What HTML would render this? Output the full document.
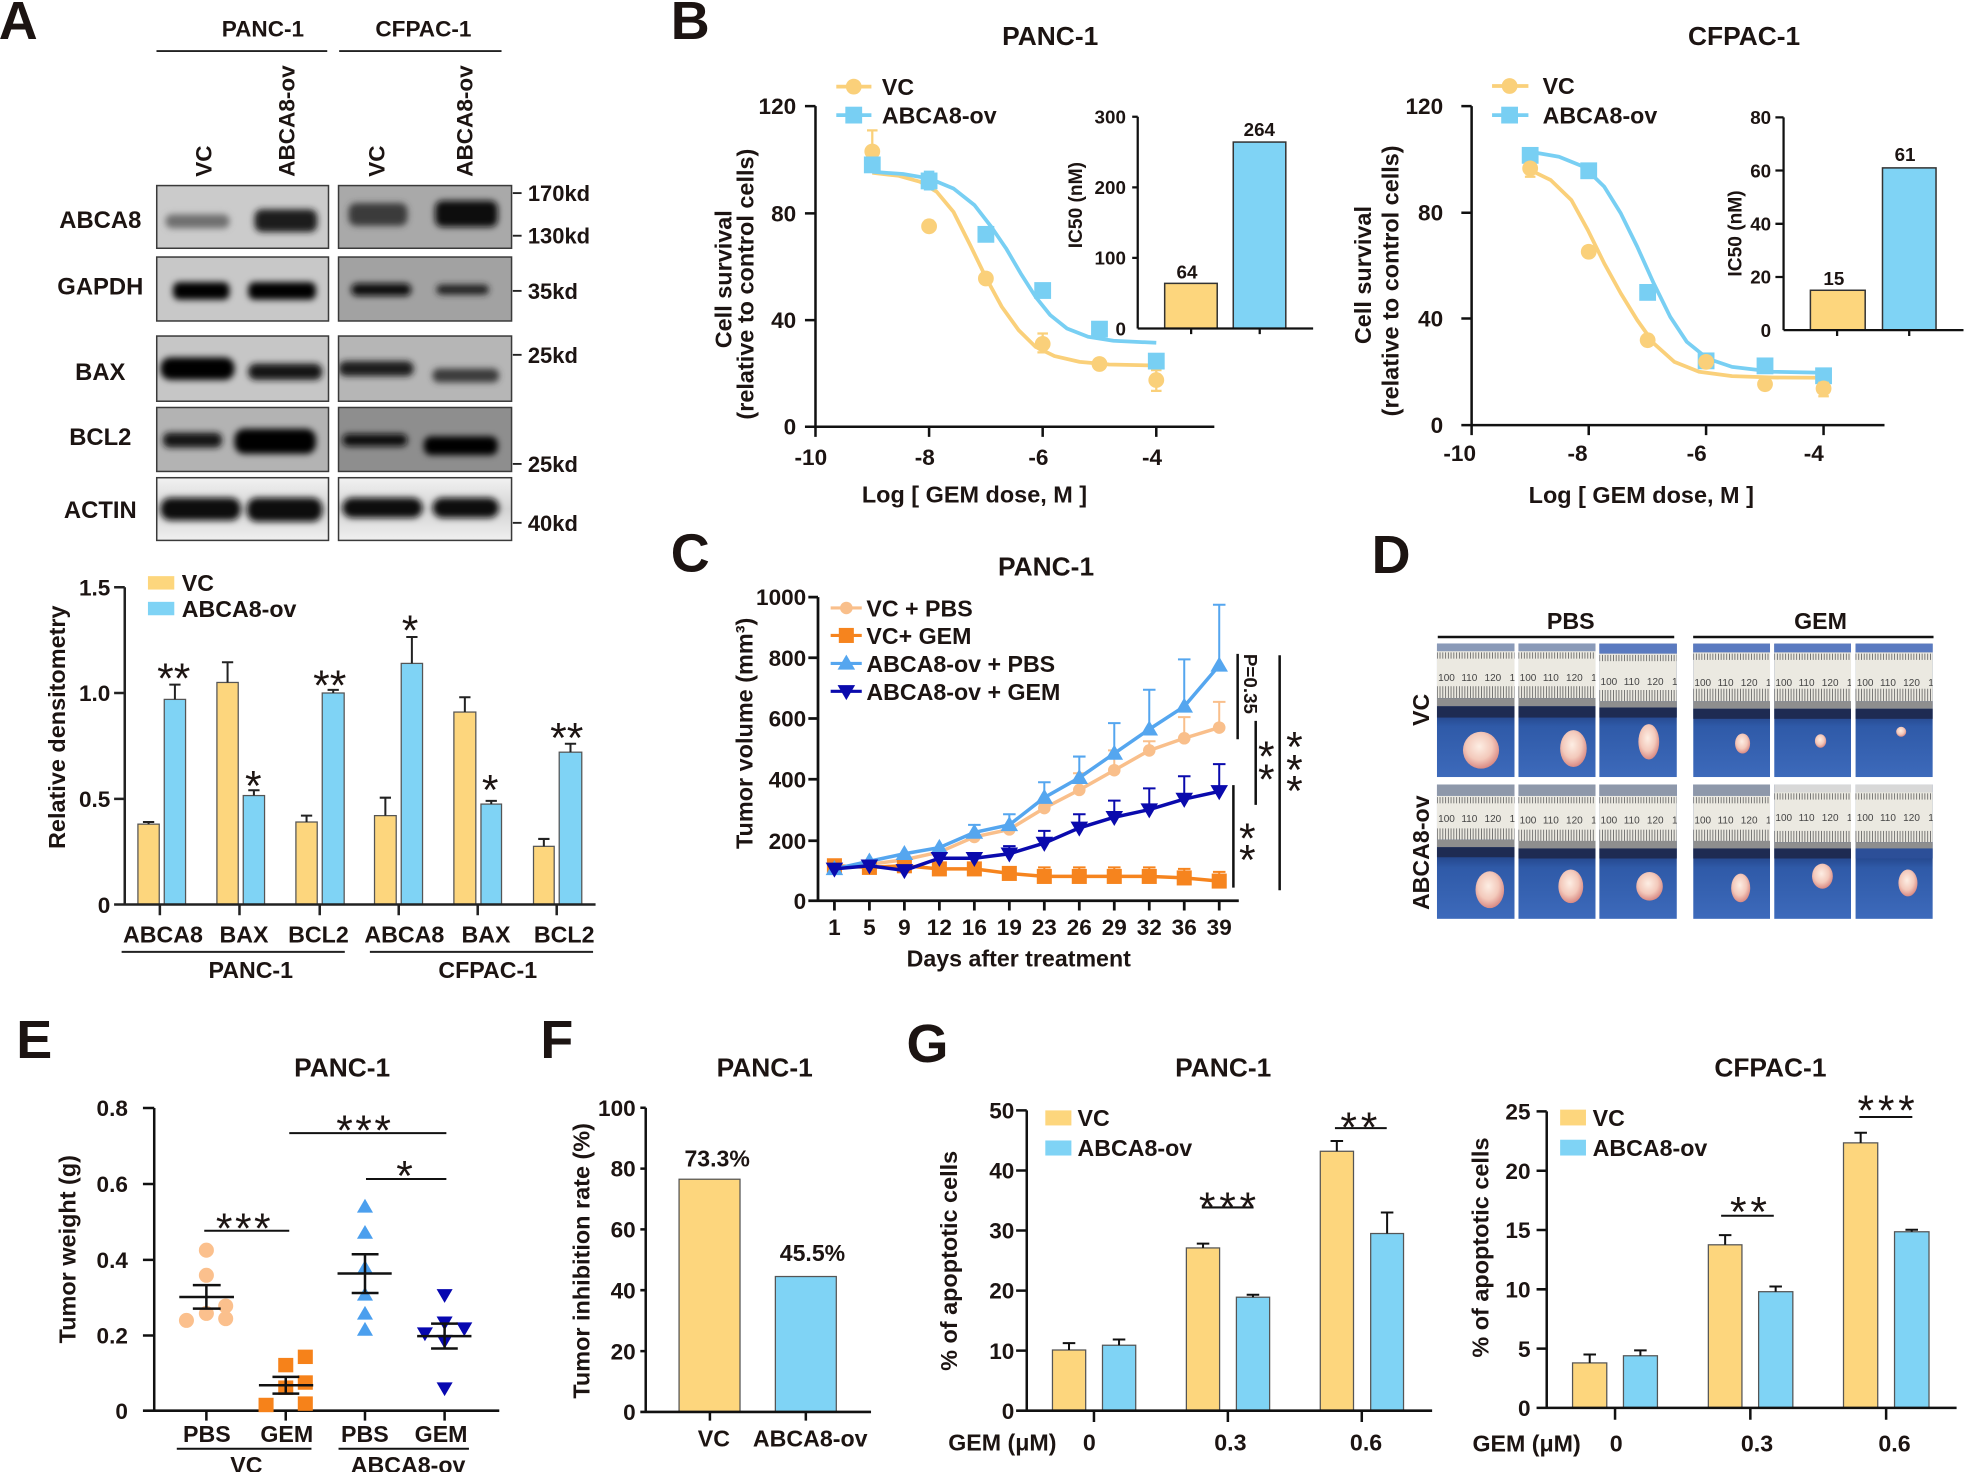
<!DOCTYPE html>
<html><head><meta charset="utf-8">
<style>
html,body{margin:0;padding:0;background:#fff;}
svg{display:block;}
text{font-family:"Liberation Sans",Arial,sans-serif;font-weight:bold;fill:#1c1412;}
.st{font-weight:normal;font-size:34px;}
.r{font-weight:normal;font-size:8px;fill:#444;}
</style></head><body>
<svg width="1966" height="1472" viewBox="0 0 1568 1174" xmlns="http://www.w3.org/2000/svg">
<defs>
<filter id="bl" x="-30%" y="-60%" width="160%" height="220%"><feGaussianBlur stdDeviation="2.6"/></filter>
<linearGradient id="pbg" x1="0" y1="0" x2="0" y2="1"><stop offset="0.5" stop-color="#203e80"/><stop offset="0.62" stop-color="#2f5aa8"/><stop offset="1" stop-color="#3d6abb"/></linearGradient>
<radialGradient id="tg" cx="0.45" cy="0.4" r="0.6"><stop offset="0" stop-color="#fdeee4"/><stop offset="0.6" stop-color="#f3c9bb"/><stop offset="1" stop-color="#d98a84"/></radialGradient>
<pattern id="tk" patternUnits="userSpaceOnUse" width="2.2" height="10"><rect width="0.6" height="10" fill="#555"/></pattern>
<linearGradient id="act" x1="0" y1="0" x2="0" y2="1"><stop offset="0" stop-color="#f2f2f2"/><stop offset="0.5" stop-color="#d4d4d4"/><stop offset="1" stop-color="#f0f0f0"/></linearGradient>
</defs>

<!-- ================= PANEL A ================= -->
<text x="-1" y="31" font-size="43">A</text>
<text x="209.7" y="29" font-size="18" text-anchor="middle">PANC-1</text>
<text x="337.7" y="29" font-size="18" text-anchor="middle">CFPAC-1</text>
<line x1="124.8" y1="40.7" x2="261" y2="40.7" stroke="#222" stroke-width="1.5"/>
<line x1="270.5" y1="40.7" x2="400" y2="40.7" stroke="#222" stroke-width="1.5"/>
<text transform="translate(168.5,141) rotate(-90)" font-size="18">VC</text>
<text transform="translate(235,141) rotate(-90)" font-size="18">ABCA8-ov</text>
<text transform="translate(306.7,141) rotate(-90)" font-size="18">VC</text>
<text transform="translate(376.7,141) rotate(-90)" font-size="18">ABCA8-ov</text>

<text x="80" y="182" font-size="19" text-anchor="middle">ABCA8</text>
<text x="80" y="235" font-size="19" text-anchor="middle">GAPDH</text>
<text x="80" y="303" font-size="19" text-anchor="middle">BAX</text>
<text x="80" y="355" font-size="19" text-anchor="middle">BCL2</text>
<text x="80" y="413" font-size="19" text-anchor="middle">ACTIN</text>

<!-- blots -->
<svg x="125" y="148" width="137" height="50"><rect width="137" height="50" fill="#cbcbcb"/><g filter="url(#bl)"><rect x="7" y="23" width="51" height="11" rx="5" fill="#707070"/><rect x="78" y="19" width="50" height="18" rx="6" fill="#1a1a1a"/></g></svg>
<svg x="270" y="148" width="138" height="50"><rect width="138" height="50" fill="#a9a9a9"/><g filter="url(#bl)"><rect x="8" y="14" width="47" height="18" rx="6" fill="#3a3a3a"/><rect x="77" y="12" width="50" height="21" rx="6" fill="#101010"/></g></svg>
<svg x="125" y="205" width="137" height="51"><rect width="137" height="51" fill="#c8c8c8"/><g filter="url(#bl)"><rect x="13" y="20" width="45" height="14" rx="5" fill="#050505"/><rect x="73" y="20" width="54" height="14" rx="5" fill="#050505"/></g></svg>
<svg x="270" y="205" width="138" height="51"><rect width="138" height="51" fill="#a2a2a2"/><g filter="url(#bl)"><rect x="10" y="21" width="48" height="10" rx="5" fill="#080808"/><rect x="78" y="22" width="42" height="8" rx="4" fill="#202020"/></g></svg>
<svg x="125" y="268" width="137" height="52"><rect width="137" height="52" fill="#c6c6c6"/><g filter="url(#bl)"><rect x="3" y="17" width="59" height="18" rx="8" fill="#050505"/><rect x="73" y="22" width="59" height="13" rx="6" fill="#151515"/></g></svg>
<svg x="270" y="268" width="138" height="52"><rect width="138" height="52" fill="#b6b6b6"/><g filter="url(#bl)"><rect x="0" y="20" width="60" height="12" rx="6" fill="#1a1a1a"/><rect x="75" y="26" width="53" height="11" rx="5" fill="#3a3a3a"/></g></svg>
<svg x="125" y="325" width="137" height="51"><rect width="137" height="51" fill="#b3b3b3"/><g filter="url(#bl)"><rect x="5" y="20" width="47" height="12" rx="5" fill="#151515"/><rect x="62" y="17" width="65" height="20" rx="8" fill="#050505"/></g></svg>
<svg x="270" y="325" width="138" height="51"><rect width="138" height="51" fill="#8e8e8e"/><g filter="url(#bl)"><rect x="3" y="21" width="52" height="10" rx="5" fill="#101010"/><rect x="68" y="23" width="59" height="15" rx="6" fill="#050505"/></g></svg>
<svg x="125" y="381" width="137" height="50"><rect width="137" height="50" fill="url(#act)"/><g filter="url(#bl)"><rect x="3" y="16" width="64" height="18" rx="8" fill="#0a0a0a"/><rect x="72" y="16" width="60" height="19" rx="8" fill="#0a0a0a"/></g></svg>
<svg x="270" y="381" width="138" height="50"><rect width="138" height="50" fill="url(#act)"/><g filter="url(#bl)"><rect x="3" y="16" width="64" height="16" rx="8" fill="#0a0a0a"/><rect x="75" y="16" width="53" height="16" rx="8" fill="#0a0a0a"/></g></svg>
<g fill="none" stroke="#3a3a3a" stroke-width="1.2">
<rect x="125" y="148" width="137" height="50"/><rect x="270" y="148" width="138" height="50"/>
<rect x="125" y="205" width="137" height="51"/><rect x="270" y="205" width="138" height="51"/>
<rect x="125" y="268" width="137" height="52"/><rect x="270" y="268" width="138" height="52"/>
<rect x="125" y="325" width="137" height="51"/><rect x="270" y="325" width="138" height="51"/>
<rect x="125" y="381" width="137" height="50"/><rect x="270" y="381" width="138" height="50"/>
</g>
<g stroke="#222" stroke-width="1.5">
<line x1="409" y1="154" x2="416" y2="154"/><line x1="409" y1="188" x2="416" y2="188"/>
<line x1="409" y1="232" x2="416" y2="232"/><line x1="409" y1="283" x2="416" y2="283"/>
<line x1="409" y1="370" x2="416" y2="370"/><line x1="409" y1="417" x2="416" y2="417"/>
</g>
<g font-size="17.5">
<text x="421" y="160.4">170kd</text><text x="421" y="194.4">130kd</text>
<text x="421" y="238.4">35kd</text><text x="421" y="289.4">25kd</text>
<text x="421" y="376.4">25kd</text><text x="421" y="423.4">40kd</text>
</g>

<!-- A bar chart -->
<rect x="118" y="459.5" width="21" height="10.7" fill="#FDD67D"/>
<text x="145" y="471.3" font-size="18.5">VC</text>
<rect x="118" y="480" width="21" height="10.7" fill="#7FD3F5"/>
<text x="145" y="491.9" font-size="18.5">ABCA8-ov</text>
<g font-size="18" text-anchor="end">
<text x="88" y="475">1.5</text><text x="88" y="559.2">1.0</text><text x="88" y="643.6">0.5</text><text x="88" y="728">0</text>
</g>
<text transform="translate(52,580) rotate(-90)" font-size="18.7" text-anchor="middle">Relative densitometry</text>
<g stroke="#555" stroke-width="1">
<rect x="110" y="657.3" width="17" height="64.1" fill="#FDD67D"/>
<rect x="131" y="557.8" width="17" height="163.6" fill="#7FD3F5"/>
<rect x="173" y="544.3" width="17" height="177.1" fill="#FDD67D"/>
<rect x="194" y="634.5" width="17" height="86.9" fill="#7FD3F5"/>
<rect x="236" y="655.6" width="17" height="65.8" fill="#FDD67D"/>
<rect x="257" y="552.7" width="17.5" height="168.7" fill="#7FD3F5"/>
<rect x="298.7" y="650.5" width="17.3" height="70.9" fill="#FDD67D"/>
<rect x="320" y="529.1" width="17" height="192.3" fill="#7FD3F5"/>
<rect x="362" y="567.9" width="17.5" height="153.5" fill="#FDD67D"/>
<rect x="383.6" y="641.3" width="16.4" height="80.1" fill="#7FD3F5"/>
<rect x="425.5" y="675" width="16.5" height="46.4" fill="#FDD67D"/>
<rect x="446" y="599.9" width="18" height="121.5" fill="#7FD3F5"/>
</g>
<g stroke="#222" stroke-width="1.6" fill="none">
<path d="M118.5 657.3V655.6M114 655.6H123"/>
<path d="M139.5 557.8V546M135 546H144"/>
<path d="M181.5 544.3V528.2M177 528.2H186"/>
<path d="M202.5 634.5V630.3M198 630.3H207"/>
<path d="M244.5 655.6V650.5M240 650.5H249"/>
<path d="M265.75 552.7V550.2M261.25 550.2H270.25"/>
<path d="M307.35 650.5V636.2M302.85 636.2H311.85"/>
<path d="M328.5 529.1V508M324 508H333"/>
<path d="M370.75 567.9V556.1M366.25 556.1H375.25"/>
<path d="M391.8 641.3V638.7M387.3 638.7H396.3"/>
<path d="M433.75 675V669.1M429.25 669.1H438.25"/>
<path d="M455 599.9V593.2M450.5 593.2H459.5"/>
</g>
<g stroke="#222" stroke-width="2" fill="none">
<path d="M99.5 468.4V721.4M91 721.4H475M91 468.4H99.5M91 552.7H99.5M91 637.1H99.5"/>
<path d="M127.5 721.4V730M191 721.4V730M255 721.4V730M318 721.4V730M381 721.4V730M444 721.4V730"/>
<path d="M97 759.2H275M295 759.2H473" stroke-width="1.6"/>
</g>
<text class="st" x="138.6" y="552.7" text-anchor="middle">**</text>
<text class="st" x="202" y="638.4" text-anchor="middle">*</text>
<text class="st" x="263" y="558.4" text-anchor="middle">**</text>
<text class="st" x="327" y="514.4" text-anchor="middle">*</text>
<text class="st" x="391" y="641.7" text-anchor="middle">*</text>
<text class="st" x="452" y="600.3" text-anchor="middle">**</text>
<g font-size="18.5" text-anchor="middle">
<text x="130" y="751.5">ABCA8</text><text x="194.6" y="751.5">BAX</text><text x="254" y="751.5">BCL2</text>
<text x="322.5" y="751.5">ABCA8</text><text x="387.6" y="751.5">BAX</text><text x="450" y="751.5">BCL2</text>
<text x="200" y="780">PANC-1</text><text x="389" y="780">CFPAC-1</text>
</g>

<!-- ================= PANEL B ================= -->
<text x="535" y="31" font-size="43">B</text>
<text x="837.6" y="36" font-size="21" text-anchor="middle">PANC-1</text>
<text x="1391" y="36" font-size="21" text-anchor="middle">CFPAC-1</text>

<!-- B PANC-1 main -->
<g stroke="#111" stroke-width="2" fill="none">
<path d="M650.4 84.6V340.4M642 340.4H968.5M642 84.6H650.4M642 170.2H650.4M642 255.3H650.4"/>
<path d="M650.4 340.4V348.4M741 340.4V348.4M831.6 340.4V348.4M922.2 340.4V348.4"/>
</g>
<g font-size="18" text-anchor="end">
<text x="635" y="91">120</text><text x="635" y="176.5">80</text><text x="635" y="261.6">40</text><text x="635" y="346.7">0</text>
</g>
<g font-size="18" text-anchor="middle">
<text x="646.7" y="371">-10</text><text x="737.6" y="371">-8</text><text x="828.2" y="371">-6</text><text x="918.8" y="371">-4</text>
</g>
<text x="777.2" y="400.6" font-size="18.7" text-anchor="middle">Log [ GEM dose, M ]</text>
<text transform="translate(583.5,222.7) rotate(-90)" font-size="18.7" text-anchor="middle">Cell survival</text>
<text transform="translate(601,226.6) rotate(-90)" font-size="18.7" text-anchor="middle">(relative to control cells)</text>
<line x1="667" y1="69.1" x2="695" y2="69.1" stroke="#FAD07A" stroke-width="3"/>
<circle cx="680.9" cy="69.1" r="6.3" fill="#FAD07A"/>
<text x="703.4" y="75.6" font-size="18.5">VC</text>
<line x1="667" y1="91.8" x2="695" y2="91.8" stroke="#78CFF3" stroke-width="3"/>
<rect x="674.2" y="85.1" width="13.4" height="13.4" fill="#78CFF3"/>
<text x="703.4" y="98.3" font-size="18.5">ABCA8-ov</text>
<path d="M695.7,137.8 L716.8,140.2 L733.6,144.9 L747,152.9 L760.4,168.9 L773.8,195.5 L786.3,221.3 L799,244.7 L812.4,263.3 L825.9,276.6 L841,284 L861.1,288.6 L884.6,290.7 L922.2,291.5" fill="none" stroke="#FAD07A" stroke-width="3" stroke-linejoin="round"/>
<path d="M695.7,137 L720.2,138.8 L741,142.3 L760.4,150.3 L777.2,163.6 L790.6,180.9 L802.4,198.1 L814.1,218.1 L825.9,236.7 L837.6,251.3 L851,262 L867.8,268.6 L888,271.8 L922.2,273.4" fill="none" stroke="#78CFF3" stroke-width="3" stroke-linejoin="round"/>
<g stroke="#FAD07A" stroke-width="1.8" fill="none">
<path d="M695.7 104V130M691.5 104H699.9"/>
<path d="M831.6 266V281M827.4 266H835.8M827.4 281H835.8"/>
<path d="M922.2 295.2V311.7M918 295.2H926.4M918 311.7H926.4"/>
</g>
<g fill="#FAD07A">
<circle cx="695.7" cy="120.8" r="6.3"/><circle cx="741" cy="180.5" r="6.3"/><circle cx="786.3" cy="222.1" r="6.3"/>
<circle cx="831.6" cy="274.3" r="6.3"/><circle cx="876.9" cy="290.3" r="6.3"/><circle cx="922.2" cy="303.1" r="6.3"/>
</g>
<path d="M741 137V151M736.8 137H745.2M736.8 151H745.2" stroke="#78CFF3" stroke-width="1.8" fill="none"/>
<g fill="#78CFF3">
<rect x="689" y="124.8" width="13.4" height="13.4"/><rect x="734.3" y="137.6" width="13.4" height="13.4"/>
<rect x="779.6" y="180.2" width="13.4" height="13.4"/><rect x="824.9" y="225" width="13.4" height="13.4"/>
<rect x="870.2" y="255.8" width="13.4" height="13.4"/><rect x="915.5" y="281.3" width="13.4" height="13.4"/>
</g>
<!-- B PANC-1 inset -->
<rect x="928.9" y="226" width="41.9" height="36" fill="#FDD67D" stroke="#333" stroke-width="1.2"/>
<rect x="983.6" y="113.3" width="41.9" height="148.7" fill="#7FD3F5" stroke="#333" stroke-width="1.2"/>
<g stroke="#111" stroke-width="1.8" fill="none">
<path d="M907.4 93.1V262M903 93.1H907.4M903 149.4H907.4M903 205.7H907.4M907.4 262H1047.3M950 262V266.5M1004.7 262V266.5"/>
</g>
<g font-size="15" text-anchor="end">
<text x="898" y="98.4">300</text><text x="898" y="154.8">200</text><text x="898" y="211">100</text><text x="898" y="267.4">0</text>
</g>
<text x="946.7" y="222.2" font-size="15" text-anchor="middle">64</text>
<text x="1004.4" y="108.6" font-size="15" text-anchor="middle">264</text>
<text transform="translate(862.8,163.6) rotate(-90)" font-size="15.3" text-anchor="middle">IC50 (nM)</text>

<!-- B CFPAC main -->
<g stroke="#111" stroke-width="2" fill="none">
<path d="M1173.7 84.6V339.1M1165.5 339.1H1503M1165.5 84.6H1173.7M1165.5 169.7H1173.7M1165.5 254H1173.7"/>
<path d="M1173.7 339.1V347M1267.1 339.1V347M1360.7 339.1V347M1454.4 339.1V347"/>
</g>
<g font-size="18" text-anchor="end">
<text x="1151" y="91">120</text><text x="1151" y="176">80</text><text x="1151" y="260.5">40</text><text x="1151" y="345.5">0</text>
</g>
<g font-size="18" text-anchor="middle">
<text x="1164.2" y="367.5">-10</text><text x="1258.2" y="367.5">-8</text><text x="1353.2" y="367.5">-6</text><text x="1446.6" y="367.5">-4</text>
</g>
<text x="1309" y="401" font-size="18.7" text-anchor="middle">Log [ GEM dose, M ]</text>
<text transform="translate(1093.5,219.4) rotate(-90)" font-size="18.7" text-anchor="middle">Cell survival</text>
<text transform="translate(1115.2,224) rotate(-90)" font-size="18.7" text-anchor="middle">(relative to control cells)</text>
<line x1="1190" y1="68.6" x2="1219" y2="68.6" stroke="#FAD07A" stroke-width="3"/>
<circle cx="1204" cy="68.6" r="6.3" fill="#FAD07A"/>
<text x="1230.3" y="75.1" font-size="18.5">VC</text>
<line x1="1190" y1="91.8" x2="1219" y2="91.8" stroke="#78CFF3" stroke-width="3"/>
<rect x="1197.3" y="85.1" width="13.4" height="13.4" fill="#78CFF3"/>
<text x="1230.3" y="98.3" font-size="18.5">ABCA8-ov</text>
<path d="M1220.4,121 L1243.4,125 L1263.1,133 L1279.5,148.9 L1292.7,170.2 L1305.8,196.8 L1319,226.1 L1332.1,252.7 L1345.3,272.6 L1361.7,285.9 L1381.4,292.6 L1414.3,296.5 L1454.4,297.3" fill="none" stroke="#78CFF3" stroke-width="3" stroke-linejoin="round"/>
<path d="M1220.4,135.6 L1236.8,143.6 L1253.3,159.6 L1266.4,183.5 L1279.5,210.1 L1292.7,234 L1305.8,255.3 L1319,273.9 L1335.4,288.6 L1355.1,296.5 L1381.4,300 L1414.3,301.1 L1454.4,301.3" fill="none" stroke="#FAD07A" stroke-width="3" stroke-linejoin="round"/>
<g fill="#78CFF3">
<rect x="1213.7" y="117.2" width="13.4" height="13.4"/><rect x="1260.4" y="129.5" width="13.4" height="13.4"/>
<rect x="1307.4" y="226.5" width="13.4" height="13.4"/><rect x="1354" y="281.1" width="13.4" height="13.4"/>
<rect x="1401" y="285.1" width="13.4" height="13.4"/><rect x="1447.7" y="293" width="13.4" height="13.4"/>
</g>
<g stroke="#FAD07A" stroke-width="1.8" fill="none">
<path d="M1220.4 130.3V141M1216.2 130.3H1224.6M1216.2 141H1224.6"/>
<path d="M1454.4 305.3V316M1450.2 305.3H1458.6M1450.2 316H1458.6"/>
</g>
<g fill="#FAD07A">
<circle cx="1220.4" cy="134.3" r="6.3"/><circle cx="1267.1" cy="200.8" r="6.3"/><circle cx="1314.1" cy="271.3" r="6.3"/>
<circle cx="1360.7" cy="288.6" r="6.3"/><circle cx="1407.7" cy="306.4" r="6.3"/><circle cx="1454.4" cy="309.8" r="6.3"/>
</g>
<!-- B CFPAC inset -->
<rect x="1443.9" y="231.5" width="43.7" height="31.8" fill="#FDD67D" stroke="#333" stroke-width="1.2"/>
<rect x="1501.4" y="133.9" width="42.7" height="129.4" fill="#7FD3F5" stroke="#333" stroke-width="1.2"/>
<g stroke="#111" stroke-width="1.8" fill="none">
<path d="M1422.5 93.6V263.3M1416 93.6H1422.5M1416 136H1422.5M1416 178.5H1422.5M1416 220.9H1422.5M1422.5 263.3H1566M1465.2 263.3V268M1522.7 263.3V268"/>
</g>
<g font-size="15" text-anchor="end">
<text x="1412.6" y="99">80</text><text x="1412.6" y="141.4">60</text><text x="1412.6" y="183.9">40</text><text x="1412.6" y="226.3">20</text><text x="1412.6" y="268.7">0</text>
</g>
<text x="1462.6" y="227.4" font-size="15" text-anchor="middle">15</text>
<text x="1519.4" y="128.3" font-size="15" text-anchor="middle">61</text>
<text transform="translate(1389,186.2) rotate(-90)" font-size="15.3" text-anchor="middle">IC50 (nM)</text>

<!-- ================= PANEL C ================= -->
<text x="535" y="456" font-size="43">C</text>
<text x="834.3" y="458.8" font-size="21" text-anchor="middle">PANC-1</text>
<g stroke="#111" stroke-width="2.2" fill="none">
<path d="M652.4 476.2V718.4M644.7 718.4H988"/>
<path d="M644.7 476.2H652.4M644.7 524.6H652.4M644.7 573H652.4M644.7 621.5H652.4M644.7 670.5H652.4"/>
<path d="M665.5 718.4V726.2M693.4 718.4V726.2M721.3 718.4V726.2M749.2 718.4V726.2M777.1 718.4V726.2M805 718.4V726.2M832.9 718.4V726.2M860.8 718.4V726.2M888.7 718.4V726.2M916.6 718.4V726.2M944.5 718.4V726.2M972.4 718.4V726.2"/>
</g>
<g font-size="18" text-anchor="end">
<text x="643" y="482.7">1000</text><text x="643" y="531.1">800</text><text x="643" y="579.5">600</text><text x="643" y="628">400</text><text x="643" y="677">200</text><text x="643" y="724.9">0</text>
</g>
<g font-size="18" text-anchor="middle">
<text x="665.5" y="745.8">1</text><text x="693.4" y="745.8">5</text><text x="721.3" y="745.8">9</text><text x="749.2" y="745.8">12</text><text x="777.1" y="745.8">16</text><text x="805" y="745.8">19</text><text x="832.9" y="745.8">23</text><text x="860.8" y="745.8">26</text><text x="888.7" y="745.8">29</text><text x="916.6" y="745.8">32</text><text x="944.5" y="745.8">36</text><text x="972.4" y="745.8">39</text>
</g>
<text x="812.5" y="770.7" font-size="18.5" text-anchor="middle">Days after treatment</text>
<text transform="translate(600,584.9) rotate(-90)" font-size="18.7" text-anchor="middle">Tumor volume (mm³)</text>
<!-- legend C -->
<line x1="662.5" y1="484.9" x2="687.3" y2="484.9" stroke="#F9BF8B" stroke-width="2.5"/><circle cx="675" cy="484.9" r="5" fill="#F9BF8B"/>
<line x1="662.5" y1="506.8" x2="687.3" y2="506.8" stroke="#F6841E" stroke-width="2.5"/><rect x="669" y="500.8" width="12" height="12" fill="#F6841E"/>
<line x1="662.5" y1="529.1" x2="687.3" y2="529.1" stroke="#55A6EF" stroke-width="2.5"/><path d="M675 522.1L682 534.1L668 534.1Z" fill="#55A6EF"/>
<line x1="662.5" y1="551.4" x2="687.3" y2="551.4" stroke="#0A0AAD" stroke-width="2.5"/><path d="M668 546.4L682 546.4L675 558.4Z" fill="#0A0AAD"/>
<g font-size="18.5">
<text x="691" y="491.6">VC + PBS</text><text x="691" y="513.5">VC+ GEM</text><text x="691" y="535.8">ABCA8-ov + PBS</text><text x="691" y="558.1">ABCA8-ov + GEM</text>
</g>
<!-- VC+PBS -->
<g stroke="#F9BF8B" stroke-width="1.6" fill="none">
<path d="M832.9 644.5V640.9M827.9 640.9H837.9M860.8 630V616.7M855.8 616.7H865.8M888.7 614.3V598.5M883.7 598.5H893.7M916.6 598.5V591.2M911.6 591.2H921.6M944.5 588.8V571.9M939.5 571.9H949.5M972.4 580.3V559.8M967.4 559.8H977.4"/>
</g>
<polyline points="665.5,691.8 693.4,689.3 721.3,685.7 749.2,679.6 777.1,667.5 805,661.5 832.9,644.5 860.8,630 888.7,614.3 916.6,598.5 944.5,588.8 972.4,580.3" fill="none" stroke="#F9BF8B" stroke-width="2.8"/>
<g fill="#F9BF8B">
<circle cx="665.5" cy="691.8" r="5"/><circle cx="693.4" cy="689.3" r="5"/><circle cx="721.3" cy="685.7" r="5"/><circle cx="749.2" cy="679.6" r="5"/><circle cx="777.1" cy="667.5" r="5"/><circle cx="805" cy="661.5" r="5"/><circle cx="832.9" cy="644.5" r="5"/><circle cx="860.8" cy="630" r="5"/><circle cx="888.7" cy="614.3" r="5"/><circle cx="916.6" cy="598.5" r="5"/><circle cx="944.5" cy="588.8" r="5"/><circle cx="972.4" cy="580.3" r="5"/>
</g>
<!-- VC+GEM -->
<g stroke="#F6841E" stroke-width="1.6" fill="none">
<path d="M832.9 699V691.8M827.9 691.8H837.9M860.8 699V691.8M855.8 691.8H865.8M888.7 699V691.8M883.7 691.8H893.7M916.6 699V691.8M911.6 691.8H921.6M944.5 700.2V693M939.5 693H949.5M972.4 702.7V695.4M967.4 695.4H977.4"/>
</g>
<polyline points="665.5,690.5 693.4,691.8 721.3,690.5 749.2,693 777.1,693 805,696.6 832.9,699 860.8,699 888.7,699 916.6,699 944.5,700.2 972.4,702.7" fill="none" stroke="#F6841E" stroke-width="2.8"/>
<g fill="#F6841E">
<rect x="659.5" y="684.5" width="12" height="12"/><rect x="687.4" y="685.8" width="12" height="12"/><rect x="715.3" y="684.5" width="12" height="12"/><rect x="743.2" y="687" width="12" height="12"/><rect x="771.1" y="687" width="12" height="12"/><rect x="799" y="690.6" width="12" height="12"/><rect x="826.9" y="693" width="12" height="12"/><rect x="854.8" y="693" width="12" height="12"/><rect x="882.7" y="693" width="12" height="12"/><rect x="910.6" y="693" width="12" height="12"/><rect x="938.5" y="694.2" width="12" height="12"/><rect x="966.4" y="696.7" width="12" height="12"/>
</g>
<!-- ABCA8+PBS -->
<g stroke="#55A6EF" stroke-width="1.6" fill="none">
<path d="M777.1 663.9V657.9M772.1 657.9H782.1M805 657.9V649.4M800 649.4H810M832.9 636.1V623.9M827.9 623.9H837.9M860.8 620.3V603.4M855.8 603.4H865.8M888.7 600.9V576.7M883.7 576.7H893.7M916.6 581.6V550.1M911.6 550.1H921.6M944.5 563.4V525.9M939.5 525.9H949.5M972.4 530.7V482.3M967.4 482.3H977.4"/>
</g>
<polyline points="665.5,693 693.4,686.9 721.3,680.9 749.2,676 777.1,663.9 805,657.9 832.9,636.1 860.8,620.3 888.7,600.9 916.6,581.6 944.5,563.4 972.4,530.7" fill="none" stroke="#55A6EF" stroke-width="2.8"/>
<g fill="#55A6EF">
<path d="M665.5 686L672.5 698L658.5 698Z"/><path d="M693.4 679.9L700.4 691.9L686.4 691.9Z"/><path d="M721.3 673.9L728.3 685.9L714.3 685.9Z"/><path d="M749.2 669L756.2 681L742.2 681Z"/><path d="M777.1 656.9L784.1 668.9L770.1 668.9Z"/><path d="M805 650.9L812 662.9L798 662.9Z"/><path d="M832.9 629.1L839.9 641.1L825.9 641.1Z"/><path d="M860.8 613.3L867.8 625.3L853.8 625.3Z"/><path d="M888.7 593.9L895.7 605.9L881.7 605.9Z"/><path d="M916.6 574.6L923.6 586.6L909.6 586.6Z"/><path d="M944.5 556.4L951.5 568.4L937.5 568.4Z"/><path d="M972.4 523.7L979.4 535.7L965.4 535.7Z"/>
</g>
<!-- ABCA8+GEM -->
<g stroke="#0A0AAD" stroke-width="1.6" fill="none">
<path d="M805 680.9V674.8M800 674.8H810M832.9 672.4V662.7M827.9 662.7H837.9M860.8 660.3V649.4M855.8 649.4H865.8M888.7 651.8V638.5M883.7 638.5H893.7M916.6 645.7V628.8M911.6 628.8H921.6M944.5 637.3V619.1M939.5 619.1H949.5M972.4 631.2V609.4M967.4 609.4H977.4"/>
</g>
<polyline points="665.5,693 693.4,690.5 721.3,694.2 749.2,684.5 777.1,684.5 805,680.9 832.9,672.4 860.8,660.3 888.7,651.8 916.6,645.7 944.5,637.3 972.4,631.2" fill="none" stroke="#0A0AAD" stroke-width="2.8"/>
<g fill="#0A0AAD">
<path d="M658.5 688L672.5 688L665.5 700Z"/><path d="M686.4 685.5L700.4 685.5L693.4 697.5Z"/><path d="M714.3 689.2L728.3 689.2L721.3 701.2Z"/><path d="M742.2 679.5L756.2 679.5L749.2 691.5Z"/><path d="M770.1 679.5L784.1 679.5L777.1 691.5Z"/><path d="M798 675.9L812 675.9L805 687.9Z"/><path d="M825.9 667.4L839.9 667.4L832.9 679.4Z"/><path d="M853.8 655.3L867.8 655.3L860.8 667.3Z"/><path d="M881.7 646.8L895.7 646.8L888.7 658.8Z"/><path d="M909.6 640.7L923.6 640.7L916.6 652.7Z"/><path d="M937.5 632.3L951.5 632.3L944.5 644.3Z"/><path d="M965.4 626.2L979.4 626.2L972.4 638.2Z"/>
</g>
<!-- C significance -->
<g stroke="#111" stroke-width="2">
<line x1="987.1" y1="521.5" x2="987.1" y2="589.6"/>
<line x1="1001.5" y1="574.9" x2="1001.5" y2="641.9"/>
<line x1="1020.6" y1="522.6" x2="1020.6" y2="710"/>
<line x1="983.7" y1="626.2" x2="983.7" y2="707.9"/>
</g>
<text transform="translate(992,521.5) rotate(90)" font-size="15">P=0.35</text>
<g class="st" text-anchor="middle">
<text class="st" x="1010" y="615">*</text><text class="st" x="1010" y="633.3">*</text>
<text class="st" x="1032.4" y="607.2">*</text><text class="st" x="1032.4" y="625.5">*</text><text class="st" x="1032.4" y="642.5">*</text>
<text class="st" x="994.8" y="680.5">*</text><text class="st" x="994.8" y="697.5">*</text>
</g>

<!-- ================= PANEL D ================= -->
<text x="1094" y="457" font-size="43">D</text>
<text x="1252.8" y="501.8" font-size="18.5" text-anchor="middle">PBS</text>
<text x="1452" y="501.8" font-size="18.5" text-anchor="middle">GEM</text>
<line x1="1146.7" y1="508" x2="1335.3" y2="508" stroke="#111" stroke-width="2"/>
<line x1="1350.4" y1="508" x2="1542.1" y2="508" stroke="#111" stroke-width="2"/>
<text transform="translate(1139.7,566.1) rotate(-90)" font-size="18.5" text-anchor="middle">VC</text>
<text transform="translate(1139.7,680.1) rotate(-90)" font-size="18.5" text-anchor="middle">ABCA8-ov</text>

<!-- row 1 photos -->
<svg x="1146" y="513.3" width="61.9" height="106.5"><rect width="100%" height="100%" fill="url(#pbg)"/><rect width="100%" height="6" fill="#8a9ab8"/><rect y="6" width="100%" height="37.5" fill="#ebe9e1"/><rect y="7" width="100%" height="5" fill="url(#tk)"/><rect y="34" width="100%" height="9.5" fill="url(#tk)"/><text class="r" x="1" y="30">100</text><text class="r" x="19.5" y="30">110</text><text class="r" x="38" y="30">120</text><text class="r" x="58" y="30">1</text><rect y="43.5" width="100%" height="6.5" fill="#8e8e8e"/><rect y="50" width="100%" height="9" fill="#1e2b52"/><ellipse cx="35.2" cy="85" rx="14.4" ry="14.7" fill="url(#tg)"/></svg>
<svg x="1211" y="513.3" width="61.5" height="106.5"><rect width="100%" height="100%" fill="url(#pbg)"/><rect width="100%" height="6" fill="#8a9ab8"/><rect y="6" width="100%" height="37.5" fill="#ebe9e1"/><rect y="7" width="100%" height="5" fill="url(#tk)"/><rect y="34" width="100%" height="9.5" fill="url(#tk)"/><text class="r" x="1" y="30">100</text><text class="r" x="19.5" y="30">110</text><text class="r" x="38" y="30">120</text><text class="r" x="58" y="30">1</text><rect y="43.5" width="100%" height="6.5" fill="#8e8e8e"/><rect y="50" width="100%" height="9" fill="#1e2b52"/><ellipse cx="43.9" cy="83.7" rx="10.6" ry="14.7" fill="url(#tg)"/></svg>
<svg x="1275.5" y="513.3" width="61.9" height="106.5"><rect width="100%" height="100%" fill="url(#pbg)"/><rect width="100%" height="8" fill="#5a7ac0"/><rect y="8" width="100%" height="38" fill="#ebe9e1"/><rect y="9" width="100%" height="5" fill="url(#tk)"/><rect y="37" width="100%" height="9" fill="url(#tk)"/><text class="r" x="1" y="33">100</text><text class="r" x="19.5" y="33">110</text><text class="r" x="38" y="33">120</text><text class="r" x="58" y="33">1</text><rect y="46" width="100%" height="5" fill="#8e8e8e"/><rect y="51" width="100%" height="8" fill="#1e2b52"/><ellipse cx="39.5" cy="78.3" rx="8.3" ry="14.1" fill="url(#tg)"/></svg>
<svg x="1350.4" y="513.3" width="61.3" height="106.5"><rect width="100%" height="100%" fill="url(#pbg)"/><rect width="100%" height="7" fill="#5a7ac0"/><rect y="7" width="100%" height="39" fill="#ebe9e1"/><rect y="8" width="100%" height="5" fill="url(#tk)"/><rect y="36" width="100%" height="10" fill="url(#tk)"/><text class="r" x="1" y="34">100</text><text class="r" x="19.5" y="34">110</text><text class="r" x="38" y="34">120</text><text class="r" x="58" y="34">1</text><rect y="46" width="100%" height="6" fill="#8e8e8e"/><rect y="52" width="100%" height="8" fill="#1e2b52"/><ellipse cx="39.4" cy="79.7" rx="6" ry="8" fill="url(#tg)"/></svg>
<svg x="1415" y="513.3" width="61.3" height="106.5"><rect width="100%" height="100%" fill="url(#pbg)"/><rect width="100%" height="7" fill="#5a7ac0"/><rect y="7" width="100%" height="39" fill="#ebe9e1"/><rect y="8" width="100%" height="5" fill="url(#tk)"/><rect y="36" width="100%" height="10" fill="url(#tk)"/><text class="r" x="1" y="34">100</text><text class="r" x="19.5" y="34">110</text><text class="r" x="38" y="34">120</text><text class="r" x="58" y="34">1</text><rect y="46" width="100%" height="6" fill="#8e8e8e"/><rect y="52" width="100%" height="8" fill="#1e2b52"/><ellipse cx="37" cy="77.7" rx="4.5" ry="5.4" fill="url(#tg)"/></svg>
<svg x="1479.9" y="513.3" width="61.6" height="106.5"><rect width="100%" height="100%" fill="url(#pbg)"/><rect width="100%" height="7" fill="#5a7ac0"/><rect y="7" width="100%" height="39" fill="#ebe9e1"/><rect y="8" width="100%" height="5" fill="url(#tk)"/><rect y="36" width="100%" height="10" fill="url(#tk)"/><text class="r" x="1" y="34">100</text><text class="r" x="19.5" y="34">110</text><text class="r" x="38" y="34">120</text><text class="r" x="58" y="34">1</text><rect y="46" width="100%" height="6" fill="#8e8e8e"/><rect y="52" width="100%" height="8" fill="#1e2b52"/><ellipse cx="36.4" cy="70.3" rx="4" ry="4" fill="url(#tg)"/></svg>
<!-- row 2 photos -->
<svg x="1146" y="625.7" width="61.9" height="107.2"><rect width="100%" height="100%" fill="url(#pbg)"/><rect width="100%" height="9" fill="#8e98aa"/><rect y="9" width="100%" height="35" fill="#ebe9e1"/><rect y="10" width="100%" height="5" fill="url(#tk)"/><rect y="35" width="100%" height="9" fill="url(#tk)"/><text class="r" x="1" y="30">100</text><text class="r" x="19.5" y="30">110</text><text class="r" x="38" y="30">120</text><text class="r" x="58" y="30">1</text><rect y="44" width="100%" height="6" fill="#8e8e8e"/><rect y="50" width="100%" height="8" fill="#1e2b52"/><ellipse cx="42.2" cy="83.9" rx="11.4" ry="14.7" fill="url(#tg)"/></svg>
<svg x="1211" y="625.7" width="61.5" height="107.2"><rect width="100%" height="100%" fill="url(#pbg)"/><rect width="100%" height="9" fill="#8e98aa"/><rect y="9" width="100%" height="36" fill="#ebe9e1"/><rect y="10" width="100%" height="5" fill="url(#tk)"/><rect y="36" width="100%" height="9" fill="url(#tk)"/><text class="r" x="1" y="31">100</text><text class="r" x="19.5" y="31">110</text><text class="r" x="38" y="31">120</text><text class="r" x="58" y="31">1</text><rect y="45" width="100%" height="6" fill="#8e8e8e"/><rect y="51" width="100%" height="8" fill="#1e2b52"/><ellipse cx="41.8" cy="81.2" rx="9.9" ry="13.4" fill="url(#tg)"/></svg>
<svg x="1275.5" y="625.7" width="61.9" height="107.2"><rect width="100%" height="100%" fill="url(#pbg)"/><rect width="100%" height="9" fill="#8e98aa"/><rect y="9" width="100%" height="36" fill="#ebe9e1"/><rect y="10" width="100%" height="5" fill="url(#tk)"/><rect y="36" width="100%" height="9" fill="url(#tk)"/><text class="r" x="1" y="31">100</text><text class="r" x="19.5" y="31">110</text><text class="r" x="38" y="31">120</text><text class="r" x="58" y="31">1</text><rect y="45" width="100%" height="6" fill="#8e8e8e"/><rect y="51" width="100%" height="8" fill="#1e2b52"/><ellipse cx="40.1" cy="81.2" rx="10.6" ry="11.4" fill="url(#tg)"/></svg>
<svg x="1350.4" y="625.7" width="61.3" height="107.2"><rect width="100%" height="100%" fill="url(#pbg)"/><rect width="100%" height="9" fill="#8e98aa"/><rect y="9" width="100%" height="36" fill="#ebe9e1"/><rect y="10" width="100%" height="5" fill="url(#tk)"/><rect y="36" width="100%" height="9" fill="url(#tk)"/><text class="r" x="1" y="31">100</text><text class="r" x="19.5" y="31">110</text><text class="r" x="38" y="31">120</text><text class="r" x="58" y="31">1</text><rect y="45" width="100%" height="6" fill="#8e8e8e"/><rect y="51" width="100%" height="8" fill="#1e2b52"/><ellipse cx="37.9" cy="82.5" rx="7.6" ry="11.4" fill="url(#tg)"/></svg>
<svg x="1415" y="625.7" width="61.3" height="107.2"><rect width="100%" height="100%" fill="url(#pbg)"/><rect width="100%" height="6" fill="#d8d8d8"/><rect y="6" width="100%" height="40" fill="#ebe9e1"/><rect y="7" width="100%" height="5" fill="url(#tk)"/><rect y="37" width="100%" height="9" fill="url(#tk)"/><text class="r" x="1" y="29">100</text><text class="r" x="19.5" y="29">110</text><text class="r" x="38" y="29">120</text><text class="r" x="58" y="29">1</text><rect y="46" width="100%" height="5" fill="#8e8e8e"/><rect y="51" width="100%" height="8" fill="#1e2b52"/><ellipse cx="38.5" cy="73.1" rx="8.3" ry="10" fill="url(#tg)"/></svg>
<svg x="1479.9" y="625.7" width="61.6" height="107.2"><rect width="100%" height="100%" fill="url(#pbg)"/><rect width="100%" height="6" fill="#d8d8d8"/><rect y="6" width="100%" height="40" fill="#ebe9e1"/><rect y="7" width="100%" height="5" fill="url(#tk)"/><rect y="37" width="100%" height="9" fill="url(#tk)"/><text class="r" x="1" y="29">100</text><text class="r" x="19.5" y="29">110</text><text class="r" x="38" y="29">120</text><text class="r" x="58" y="29">1</text><rect y="46" width="100%" height="5" fill="#8e8e8e"/><rect y="51" width="100%" height="8" fill="#2c4f98"/><ellipse cx="41.8" cy="78.5" rx="7.6" ry="10.7" fill="url(#tg)"/></svg>

<!-- ================= PANEL E ================= -->
<text x="13" y="844" font-size="43">E</text>
<text x="272.9" y="858.4" font-size="21" text-anchor="middle">PANC-1</text>
<g stroke="#111" stroke-width="2" fill="none">
<path d="M123 883.7V1125.1M114 1125.1H398.2M114 883.7H123M114 944.3H123M114 1004.8H123M114 1065.1H123"/>
<path d="M164.6 1125.1V1133M227.9 1125.1V1133M291.1 1125.1V1133M354.6 1125.1V1133"/>
<path d="M141 1155.5H248.4M270 1155.5H374" stroke-width="1.6"/>
</g>
<g font-size="18" text-anchor="end">
<text x="102" y="890.2">0.8</text><text x="102" y="950.8">0.6</text><text x="102" y="1011.3">0.4</text><text x="102" y="1071.6">0.2</text><text x="102" y="1131.6">0</text>
</g>
<g font-size="18.5" text-anchor="middle">
<text x="165" y="1150.2">PBS</text><text x="228.7" y="1150.2">GEM</text><text x="291" y="1150.2">PBS</text><text x="351.8" y="1150.2">GEM</text>
<text x="196.5" y="1175">VC</text><text x="325.5" y="1175">ABCA8-ov</text>
</g>
<text transform="translate(60.4,996.3) rotate(-90)" font-size="18.7" text-anchor="middle">Tumor weight (g)</text>
<g fill="#FBC08D">
<circle cx="164.6" cy="997.1" r="6"/><circle cx="164.6" cy="1017.1" r="6"/><circle cx="148.7" cy="1053.1" r="6"/><circle cx="164.6" cy="1047.5" r="6"/><circle cx="180" cy="1041.6" r="6"/><circle cx="180" cy="1051.7" r="6"/>
</g>
<g fill="#F6821A">
<rect x="206.2" y="1114.8" width="12" height="11.5"/><rect x="221.9" y="1083" width="12" height="11.5"/><rect x="237.5" y="1076.4" width="12" height="11.5"/><rect x="237.5" y="1096.9" width="12" height="11.5"/><rect x="237.5" y="1113.7" width="12" height="11.5"/><rect x="221.9" y="1101" width="12" height="11.5"/>
</g>
<g fill="#4B9FEE">
<path d="M291.1 956.1L297.5 967.1L284.7 967.1Z"/><path d="M291.1 977L297.5 988L284.7 988Z"/><path d="M291.1 1004.9L297.5 1015.9L284.7 1015.9Z"/><path d="M291.1 1026.3L297.5 1037.3L284.7 1037.3Z"/><path d="M291.1 1041.5L297.5 1052.5L284.7 1052.5Z"/><path d="M291.1 1054.3L297.5 1065.3L284.7 1065.3Z"/>
</g>
<g fill="#0707B0">
<path d="M348.2 1028.1L361 1028.1L354.6 1039.1Z"/><path d="M332.5 1058.7L345.3 1058.7L338.9 1069.7Z"/><path d="M363.9 1054.7L376.7 1054.7L370.3 1065.7Z"/><path d="M348.2 1050L361 1050L354.6 1061Z"/><path d="M348.2 1064.6L361 1064.6L354.6 1075.6Z"/><path d="M348.2 1102.5L361 1102.5L354.6 1113.5Z"/>
</g>
<g stroke="#111" stroke-width="2" fill="none">
<path d="M143 1034.4H186.6M153.8 1025H176M153.8 1043.7H176M164.6 1025V1043.7"/>
<path d="M206.5 1104.8H249.8M217.3 1098.1H238.7M217.3 1111.5H238.7M227.9 1098.1V1111.5"/>
<path d="M269.2 1015.7H312.4M280.5 1000.3H301.9M280.5 1031.2H301.9M291.1 1000.3V1031.2"/>
<path d="M332.7 1065.6H376M343.8 1055.7H365.1M343.8 1075.5H365.1M354.6 1055.7V1075.5"/>
<path d="M162.9 981.6H230.7M230.7 903.7H356M291.9 940.3H356" stroke-width="1.6"/>
</g>
<text class="st" x="195" y="991.2" text-anchor="middle" letter-spacing="2">***</text>
<text class="st" x="291" y="913.3" text-anchor="middle" letter-spacing="2">***</text>
<text class="st" x="322.7" y="949.3" text-anchor="middle">*</text>

<!-- ================= PANEL F ================= -->
<text x="431" y="844" font-size="43">F</text>
<text x="609.9" y="858.4" font-size="21" text-anchor="middle">PANC-1</text>
<rect x="541.6" y="940.5" width="48.6" height="185.6" fill="#FDD67D" stroke="#555" stroke-width="1"/>
<rect x="618.4" y="1018.1" width="48.6" height="108" fill="#7FD3F5" stroke="#555" stroke-width="1"/>
<g stroke="#111" stroke-width="2" fill="none">
<path d="M515 883.5V1126.1M510.7 1126.1H694.7M510.7 883.5H515M510.7 932H515M510.7 980.5H515M510.7 1029H515M510.7 1077.6H515"/>
<path d="M566.2 1126.1V1133M642.7 1126.1V1133"/>
</g>
<g font-size="18" text-anchor="end">
<text x="507" y="890">100</text><text x="507" y="938.5">80</text><text x="507" y="987">60</text><text x="507" y="1035.5">40</text><text x="507" y="1084.1">20</text><text x="507" y="1132.6">0</text>
</g>
<text x="569.4" y="1153.6" font-size="18.5" text-anchor="middle">VC</text>
<text x="646.2" y="1153.6" font-size="18.5" text-anchor="middle">ABCA8-ov</text>
<text x="572" y="930.4" font-size="18.4" text-anchor="middle">73.3%</text>
<text x="648" y="1005.6" font-size="18.4" text-anchor="middle">45.5%</text>
<text transform="translate(470.2,1005.6) rotate(-90)" font-size="18.7" text-anchor="middle">Tumor inhibition rate (%)</text>

<!-- ================= PANEL G ================= -->
<text x="723" y="847" font-size="43">G</text>
<text x="975.6" y="858.4" font-size="21" text-anchor="middle">PANC-1</text>
<text x="1412" y="858.4" font-size="21" text-anchor="middle">CFPAC-1</text>
<!-- G PANC-1 -->
<g stroke="#555" stroke-width="1">
<rect x="839.4" y="1076.7" width="26.5" height="48.4" fill="#FDD67D"/>
<rect x="879.3" y="1072.9" width="26.5" height="52.2" fill="#7FD3F5"/>
<rect x="946.2" y="995.3" width="26.5" height="129.8" fill="#FDD67D"/>
<rect x="986.1" y="1034.6" width="26.5" height="90.5" fill="#7FD3F5"/>
<rect x="1053" y="918.2" width="26.5" height="206.9" fill="#FDD67D"/>
<rect x="1093.2" y="983.8" width="26.2" height="141.3" fill="#7FD3F5"/>
</g>
<g stroke="#111" stroke-width="1.6" fill="none">
<path d="M852.6 1076.7V1071.2M847.6 1071.2H857.6"/>
<path d="M892.5 1072.9V1068.3M887.5 1068.3H897.5"/>
<path d="M959.5 995.3V991.9M954.5 991.9H964.5"/>
<path d="M999.3 1034.6V1032.6M994.3 1032.6H1004.3"/>
<path d="M1066.2 918.2V910M1061.2 910H1071.2"/>
<path d="M1106.3 983.8V967M1101.3 967H1111.3"/>
</g>
<g stroke="#111" stroke-width="2" fill="none">
<path d="M818.9 885.6V1125.1M810.4 1125.1H1142.2M810.4 885.6H818.9M810.4 933.5H818.9M810.4 981.4H818.9M810.4 1029.3H818.9M810.4 1077.2H818.9"/>
<path d="M872.5 1125.1V1134.1M979.3 1125.1V1134.1M1086.1 1125.1V1134.1"/>
<path d="M958.5 963H999.8M1064.7 899.7H1106" stroke-width="1.6"/>
</g>
<g font-size="18" text-anchor="end">
<text x="809" y="892.1">50</text><text x="809" y="940">40</text><text x="809" y="987.9">30</text><text x="809" y="1035.8">20</text><text x="809" y="1083.7">10</text><text x="809" y="1131.6">0</text>
</g>
<rect x="833.7" y="885.6" width="20.8" height="12" fill="#FDD67D"/>
<text x="859.4" y="898" font-size="18.5">VC</text>
<rect x="833.7" y="909.6" width="20.8" height="12" fill="#7FD3F5"/>
<text x="859.4" y="922" font-size="18.5">ABCA8-ov</text>
<text class="st" x="980.5" y="974.7" text-anchor="middle" letter-spacing="3">***</text>
<text class="st" x="1085.3" y="910.7" text-anchor="middle" letter-spacing="3">**</text>
<text transform="translate(763.4,1005.6) rotate(-90)" font-size="18.7" text-anchor="middle">% of apoptotic cells</text>
<text x="756.3" y="1156.8" font-size="18.5">GEM (μM)</text>
<g font-size="18.5" text-anchor="middle">
<text x="868.8" y="1156.8">0</text><text x="981.3" y="1156.8">0.3</text><text x="1089.5" y="1156.8">0.6</text>
</g>
<!-- G CFPAC -->
<g stroke="#555" stroke-width="1">
<rect x="1254.2" y="1087" width="27.3" height="35.9" fill="#FDD67D"/>
<rect x="1294.8" y="1081.3" width="27.1" height="41.6" fill="#7FD3F5"/>
<rect x="1362.5" y="992.8" width="26.8" height="130.1" fill="#FDD67D"/>
<rect x="1402.6" y="1030.2" width="27.3" height="92.7" fill="#7FD3F5"/>
<rect x="1470.3" y="911.5" width="27.3" height="211.4" fill="#FDD67D"/>
<rect x="1511" y="982.4" width="27.5" height="140.5" fill="#7FD3F5"/>
</g>
<g stroke="#111" stroke-width="1.6" fill="none">
<path d="M1267.9 1087V1080.3M1262.9 1080.3H1272.9"/>
<path d="M1308.3 1081.3V1077M1303.3 1077H1313.3"/>
<path d="M1375.9 992.8V985.1M1370.9 985.1H1380.9"/>
<path d="M1416.2 1030.2V1026.1M1411.2 1026.1H1421.2"/>
<path d="M1484 911.5V903.4M1479 903.4H1489"/>
<path d="M1524.7 982.4V980.8M1519.7 980.8H1529.7"/>
</g>
<g stroke="#111" stroke-width="2" fill="none">
<path d="M1233.6 886.4V1122.9M1225.5 1122.9H1560.5M1225.5 886.4H1233.6M1225.5 933.7H1233.6M1225.5 981H1233.6M1225.5 1028.3H1233.6M1225.5 1075.6H1233.6"/>
<path d="M1288.1 1122.9V1132.3M1396 1122.9V1132.3M1504.3 1122.9V1132.3"/>
<path d="M1372.7 969.6H1414.7M1482.9 890.9H1525.2" stroke-width="1.6"/>
</g>
<g font-size="18" text-anchor="end">
<text x="1220.7" y="892.9">25</text><text x="1220.7" y="940.2">20</text><text x="1220.7" y="987.5">15</text><text x="1220.7" y="1034.8">10</text><text x="1220.7" y="1082.1">5</text><text x="1220.7" y="1129.4">0</text>
</g>
<rect x="1244.3" y="885" width="20.6" height="12.6" fill="#FDD67D"/>
<text x="1270.2" y="898" font-size="18.5">VC</text>
<rect x="1244.3" y="909" width="20.6" height="12.6" fill="#7FD3F5"/>
<text x="1270.2" y="922" font-size="18.5">ABCA8-ov</text>
<text class="st" x="1396" y="978.1" text-anchor="middle" letter-spacing="3">**</text>
<text class="st" x="1505.8" y="897.3" text-anchor="middle" letter-spacing="3">***</text>
<text transform="translate(1187,995) rotate(-90)" font-size="18.7" text-anchor="middle">% of apoptotic cells</text>
<text x="1174.4" y="1157.6" font-size="18.5">GEM (μM)</text>
<g font-size="18.5" text-anchor="middle">
<text x="1289" y="1157.6">0</text><text x="1401.3" y="1157.6">0.3</text><text x="1511" y="1157.6">0.6</text>
</g>
</svg>
</body></html>
